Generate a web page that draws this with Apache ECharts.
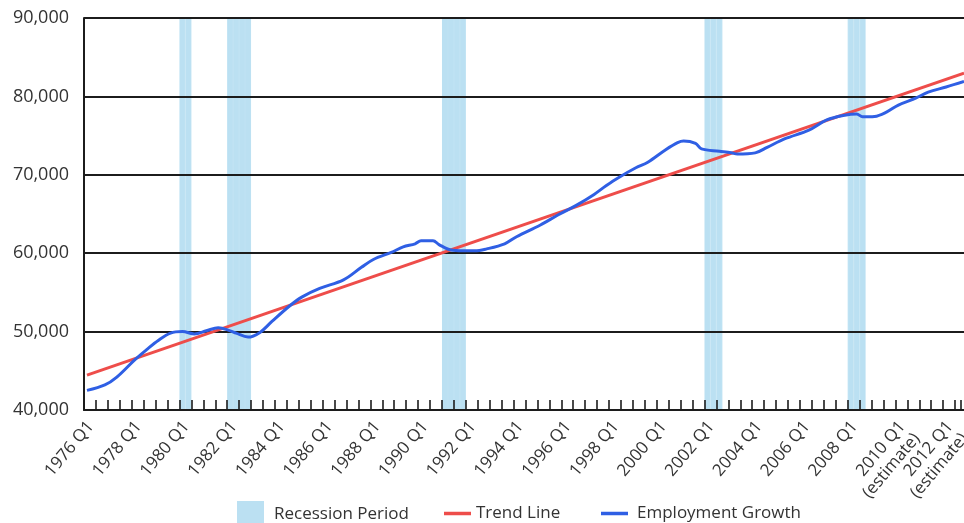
<!DOCTYPE html>
<html>
<head>
<meta charset="utf-8">
<title>Employment Growth and Trend</title>
<script src="https://cdn.jsdelivr.net/npm/echarts@6/dist/echarts.min.js"></script>
<style>
  html, body { margin: 0; padding: 0; background: #ffffff; }
  #chart { width: 964px; height: 523px; }
</style>
</head>
<body>
<div id="chart"></div>
<script>
// Quarterly category axis, 1976 Q1 through 2012 Q4
const firstYear = 1976;
const lastYear = 2012;
const categories = [];
for (let y = firstYear; y <= lastYear; y++) {
  for (let q = 1; q <= 4; q++) categories.push(y + ' Q' + q);
}

// Quarters that get a tick label
const xTickLabels = [
  '1976 Q1', '1978 Q1', '1980 Q1', '1982 Q1', '1984 Q1', '1986 Q1',
  '1988 Q1', '1990 Q1', '1992 Q1', '1994 Q1', '1996 Q1', '1998 Q1',
  '2000 Q1', '2002 Q1', '2004 Q1', '2006 Q1', '2008 Q1', '2010 Q1', '2012 Q1'
];
// Tick labels that carry an "(estimate)" note
const estimateLabels = ['2010 Q1', '2012 Q1'];

// Quarters shaded as recession periods
const recessionQuarters = [
  '1980 Q1', '1980 Q2',
  '1982 Q1', '1982 Q2', '1982 Q3', '1982 Q4',
  '1991 Q1', '1991 Q2', '1991 Q3', '1991 Q4',
  '2002 Q1', '2002 Q2', '2002 Q3',
  '2008 Q1', '2008 Q2', '2008 Q3'
];

// Employment (thousands), sampled quarters
const empQuarters = [
  '1976 Q1', '1976 Q4', '1977 Q2', '1978 Q1', '1978 Q3', '1979 Q1', '1979 Q3',
  '1980 Q1', '1980 Q3', '1981 Q1', '1981 Q3', '1982 Q1', '1982 Q2', '1982 Q4',
  '1983 Q2', '1983 Q4', '1984 Q3', '1985 Q1', '1985 Q4', '1986 Q4', '1987 Q3',
  '1988 Q1', '1988 Q4', '1989 Q2', '1989 Q4', '1990 Q1', '1990 Q3', '1990 Q4',
  '1991 Q2', '1991 Q4', '1992 Q2', '1992 Q4', '1993 Q3', '1994 Q1', '1995 Q1',
  '1995 Q4', '1996 Q3', '1997 Q2', '1997 Q4', '1998 Q2', '1999 Q1', '1999 Q3',
  '2000 Q2', '2000 Q4', '2001 Q1', '2001 Q3', '2001 Q4', '2002 Q3', '2003 Q1',
  '2003 Q2', '2004 Q1', '2004 Q3', '2005 Q2', '2006 Q2', '2007 Q1', '2007 Q4',
  '2008 Q2', '2008 Q3', '2009 Q1', '2009 Q3', '2010 Q1', '2010 Q4', '2011 Q2',
  '2012 Q1', '2012 Q4'
];
const empValues = [
  42500, 43200, 44200, 46400, 47700, 48900, 49800,
  50000, 49700, 50100, 50500, 50100, 49800, 49300,
  49900, 51300, 53300, 54400, 55500, 56600, 58200,
  59200, 60100, 60800, 61200, 61600, 61600, 61100,
  60400, 60300, 60300, 60550, 61200, 62100, 63600,
  64900, 66100, 67500, 68600, 69600, 70900, 71600,
  73200, 74100, 74300, 74000, 73300, 73000, 72800,
  72650, 72800, 73500, 74600, 75700, 77000, 77600,
  77750, 77400, 77450, 78000, 78900, 79800, 80550,
  81200, 81900
];

// Linear trend line end points
const trendQuarters = ['1976 Q1', '2012 Q4'];
const trendValues = [44450, 82950];

// Value axis ticks
const yMin = 40000;
const yMax = 90000;
const yStep = 10000;

const FONT = '"Open Sans", "Noto Sans", sans-serif';
const TEXT = '#333333';
const INK = '#1c1c1c';
const BAND = '#bbe0f2';
const RED = '#ee4d4a';
const BLUE = '#2f5fe4';

const chart = echarts.init(document.getElementById('chart'), null, { renderer: 'canvas' });

chart.setOption({
  animation: false,
  backgroundColor: '#ffffff',
  textStyle: { fontFamily: FONT },
  grid: {
    left: 84, top: 18, right: -3, bottom: 113,
    containLabel: false,
    outerBoundsMode: 'none'
  },
  legend: [
    {
      left: 237, top: 501, padding: 0,
      itemWidth: 25, itemHeight: 24,
      data: [{ name: 'Recession Period', icon: 'rect' }],
      textStyle: { fontSize: 17, color: TEXT, fontFamily: FONT, padding: [0, 0, 0, 6] }
    },
    {
      left: 444, top: 505, padding: 0,
      itemWidth: 27, itemHeight: 3.5,
      data: [{ name: 'Trend Line', icon: 'rect' }],
      textStyle: { fontSize: 17, color: TEXT, fontFamily: FONT }
    },
    {
      left: 601, top: 505, padding: 0,
      itemWidth: 27, itemHeight: 3.5,
      data: [{ name: 'Employment Growth', icon: 'rect' }],
      textStyle: { fontSize: 17, color: TEXT, fontFamily: FONT, padding: [0, 0, 0, 4] }
    }
  ],
  xAxis: {
    type: 'category',
    data: categories,
    boundaryGap: true,
    z: 2,
    axisLine: { show: true, lineStyle: { color: INK, width: 2 } },
    axisTick: {
      show: true,
      inside: true, length: 10, interval: 1,
      lineStyle: { color: INK, width: 1.6 }
    },
    axisLabel: {
      interval: 0,
      rotate: 50,
      margin: 18,
      fontSize: 17,
      color: TEXT,
      fontFamily: FONT,
      lineHeight: 19,
      padding: [0, -6, 0, 0],
      hideOverlap: false,
      formatter: function (v) {
        if (xTickLabels.indexOf(v) < 0) return '';
        return estimateLabels.indexOf(v) >= 0 ? '\n' + v + '\n(estimate)' : v;
      }
    },
    splitLine: { show: false }
  },
  yAxis: [
    {
      type: 'value',
      min: yMin, max: yMax, interval: yStep,
      z: 2,
      axisLine: { show: true, lineStyle: { color: INK, width: 2 } },
      axisTick: { show: false },
      axisLabel: {
        margin: 15,
        fontSize: 18,
        color: TEXT,
        fontFamily: FONT,
        formatter: function (v) { return v.toLocaleString('en-US'); }
      },
      splitLine: { show: true, lineStyle: { color: INK, width: 1.8 } }
    },
    {
      type: 'value', min: 0, max: 1, show: false,
      splitLine: { show: false }
    }
  ],
  series: [
    {
      name: 'Recession Period',
      type: 'bar',
      yAxisIndex: 1,
      z: 1,
      barWidth: '100%',
      barCategoryGap: '0%',
      itemStyle: { color: BAND, borderColor: BAND, borderWidth: 1 },
      data: recessionQuarters.map(q => [q, 1])
    },
    {
      name: 'Trend Line',
      type: 'line',
      z: 3,
      symbol: 'none',
      lineStyle: { color: RED, width: 3 },
      itemStyle: { color: RED },
      data: trendQuarters.map((q, i) => [q, trendValues[i]])
    },
    {
      name: 'Employment Growth',
      type: 'line',
      z: 4,
      symbol: 'none',
      smooth: 0.35,
      lineStyle: { color: BLUE, width: 3 },
      itemStyle: { color: BLUE },
      data: empQuarters.map((q, i) => [q, empValues[i]])
    }
  ]
});
</script>
</body>
</html>
